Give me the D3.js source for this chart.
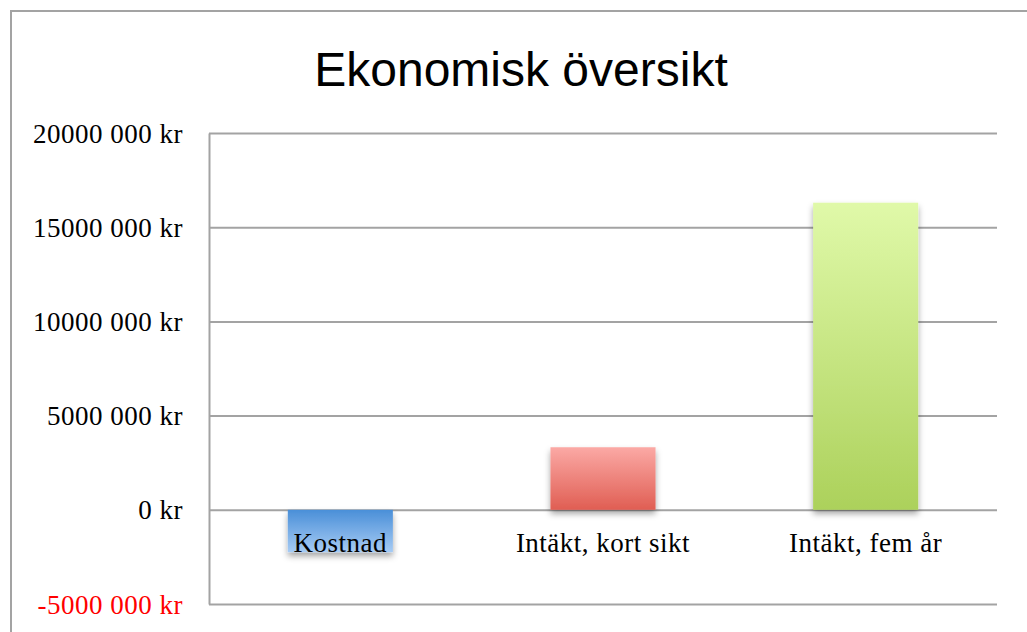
<!DOCTYPE html>
<html>
<head>
<meta charset="utf-8">
<script src="https://cdn.jsdelivr.net/npm/d3@7"></script>
<style>
  body { margin: 0; background: #fff; }
  svg { display: block; }
</style>
</head>
<body>
<div id="chart"></div>
<script>
// Data
const categories = ["Kostnad", "Intäkt, kort sikt", "Intäkt, fem år"];
const values = [-2250000, 3320000, 16300000];
const tickValues = [-5000000, 0, 5000000, 10000000, 15000000, 20000000];
const tickLabels = ["-5000 000 kr", "0 kr", "5000 000 kr", "10000 000 kr", "15000 000 kr", "20000 000 kr"];
const gradients = [
    ["#4a8fd8", "#a6cbf4"],   // dark at zero line, light at end
    ["#e05e53", "#fba9a5"],
    ["#acd15b", "#e0f9a9"]
];

const W = 1027, H = 632;
const margin = {top: 133, right: 30, bottom: 28, left: 209};
const width = 997 - margin.left;
const height = 604 - margin.top;

const svg = d3.select("#chart")
    .append("svg")
    .attr("width", W)
    .attr("height", H);

const defs = svg.append("defs");
gradients.forEach((g, i) => {
    const up = values[i] >= 0;
    const lg = defs.append("linearGradient")
        .attr("id", "grad" + i)
        .attr("x1", 0).attr("x2", 0)
        .attr("y1", up ? 1 : 0).attr("y2", up ? 0 : 1);
    lg.append("stop").attr("offset", "0%").attr("stop-color", g[0]);
    lg.append("stop").attr("offset", "100%").attr("stop-color", g[1]);
});
const shadow = defs.append("filter").attr("id", "shadow")
    .attr("x", "-20%").attr("y", "-20%").attr("width", "140%").attr("height", "160%");
shadow.append("feDropShadow")
    .attr("dx", 0).attr("dy", 4)
    .attr("stdDeviation", 3)
    .attr("flood-color", "#000")
    .attr("flood-opacity", 0.35);

// Outer frame (runs off the right and bottom edges)
svg.append("rect")
    .attr("x", 11).attr("y", 11)
    .attr("width", W + 20).attr("height", H + 20)
    .attr("fill", "none")
    .attr("stroke", "#a3a3a3")
    .attr("stroke-width", 2);

// Title
svg.append("text")
    .attr("x", 521).attr("y", 86)
    .attr("text-anchor", "middle")
    .style("font-family", "'Liberation Sans', Arial, sans-serif")
    .style("font-size", "48px")
    .text("Ekonomisk översikt");

const g = svg.append("g")
    .attr("transform", "translate(" + margin.left + "," + margin.top + ")");

// Scales
const x = d3.scaleBand()
    .domain(categories)
    .range([0, width])
    .paddingInner(0.6)
    .paddingOuter(0.3);

const y = d3.scaleLinear()
    .domain([-5000000, 20000000])
    .range([height, 0]);

const serif = "'Liberation Serif', 'Times New Roman', serif";

// Y axis with gridlines
const yAxis = g.append("g")
    .call(d3.axisLeft(y)
        .tickValues(tickValues)
        .tickSize(-width)
        .tickSizeOuter(0)
        .tickPadding(26)
        .tickFormat((d, i) => tickLabels[i]));
yAxis.select(".domain").attr("stroke", "#a3a3a3").attr("stroke-width", 2);
yAxis.selectAll(".tick line").attr("stroke", "#a3a3a3").attr("stroke-width", 2);
yAxis.selectAll(".tick text")
    .style("font-family", serif)
    .style("font-size", "27px")
    .style("letter-spacing", "0.5px")
    .attr("fill", d => d < 0 ? "#ff0000" : "#000")
    .attr("dy", "0.34em");

// Bars
g.selectAll(".bar")
    .data(values)
    .enter()
    .append("rect")
    .attr("class", "bar")
    .attr("x", (d, i) => x(categories[i]))
    .attr("y", d => y(Math.max(0, d)))
    .attr("width", x.bandwidth())
    .attr("height", d => Math.abs(y(d) - y(0)))
    .attr("fill", (d, i) => "url(#grad" + i + ")")
    .attr("filter", "url(#shadow)");

// Category labels
g.selectAll(".cat")
    .data(categories)
    .enter()
    .append("text")
    .attr("class", "cat")
    .attr("x", d => x(d) + x.bandwidth() / 2)
    .attr("y", y(0) + 42)
    .attr("text-anchor", "middle")
    .style("font-family", serif)
    .style("font-size", "27px")
    .style("letter-spacing", "0.5px")
    .text(d => d);
</script>
</body>
</html>
